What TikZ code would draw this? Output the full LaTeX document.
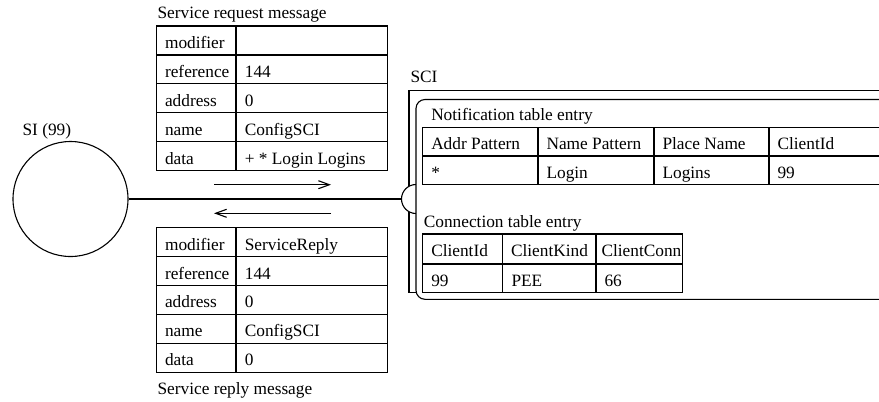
\documentclass[tikz,border=0pt]{standalone}
\usepackage{fontspec}
\setmainfont{Liberation Serif}
\usetikzlibrary{arrows.meta}
\begin{document}
\begin{tikzpicture}[x=1bp,y=-1bp,line width=1.1bp,
  txt/.style={inner sep=0pt,anchor=base west,font=\fontsize{17.3bp}{20bp}\selectfont},
  arr/.style={-{Straight Barb[length=11bp,width=8bp]},line width=1.1bp},
  boxline/.style={line width=1.2bp}]
\useasboundingbox (0,0) rectangle (879,401);
\clip (0,0) rectangle (879,401);

% ---- service request message ----
\node[txt] (reqtitle) at (157,18.3) {Service request message};
\draw[boxline] (156.7,26) rectangle (387.7,170.7);
\foreach \y in {54.94,83.88,112.82,141.76} \draw[boxline] (156.7,\y) -- (387.7,\y);
\draw[boxline] (236,26) -- (236,170.7);
\foreach \k/\v [count=\i from 0] in {modifier/{},reference/144,address/0,name/ConfigSCI,data/{+ * Login Logins}} {
  \node[txt] (rqk\i) at (164.5,26+28.94*\i+22.4) {\k};
  \node[txt] (rqv\i) at (244.3,26+28.94*\i+22.4) {\v};
}

% ---- service reply message ----
\draw[boxline] (156.7,227.7) rectangle (387.7,372.3);
\foreach \y in {256.62,285.54,314.46,343.38} \draw[boxline] (156.7,\y) -- (387.7,\y);
\draw[boxline] (236,227.7) -- (236,372.3);
\foreach \k/\v [count=\i from 0] in {modifier/ServiceReply,reference/144,address/0,name/ConfigSCI,data/0} {
  \node[txt] (rpk\i) at (164.5,227.7+28.92*\i+22.4) {\k};
  \node[txt] (rpv\i) at (244.3,227.7+28.92*\i+22.4) {\v};
}
\node[txt] (reptitle) at (157,394) {Service reply message};

% ---- SI process ----
\node[draw,circle,minimum size=115bp,inner sep=0pt] (si) at (70.5,199) {};
\node[txt] (silabel) at (22,135) {SI (99)};

% ---- SCI component ----
\node[txt] (scilabel) at (410,82.7) {SCI};
\draw (900,90.7) -- (409,90.7) -- (409,292.3) -- (430,292.3);
\draw[fill=white] (416,213.5) arc[start angle=90,end angle=270,radius=14.5];
\coordinate (port) at (401.5,199);
\draw[fill=white,rounded corners=9bp] (900,99.5) -- (416,99.5) -- (416,299.3) -- (900,299.3);

% link between SI and SCI port, with message directions
\draw (si.east) -- (port);
\coordinate (reqa) at (214,184.7);
\coordinate (reqb) at (331,184.7);
\coordinate (repa) at (331,213.3);
\coordinate (repb) at (214,213.3);
\draw[arr] (reqa) -- (reqb);
\draw[arr] (repa) -- (repb);

% ---- notification table ----
\node[txt] (nttitle) at (430.7,120.7) {Notification table entry};
\draw[boxline] (900,127.3) -- (422.7,127.3) -- (422.7,184.5) -- (900,184.5);
\draw[boxline] (422.7,156) -- (900,156);
\foreach \x in {538,654,769} \draw[boxline] (\x,127.3) -- (\x,184.5);
\foreach \h/\d/\x [count=\i] in {Addr Pattern/*/422.7,Name Pattern/Login/538,Place Name/Logins/654,ClientId/99/769} {
  \node[txt] (nth\i) at (\x+8,149.8) {\h};
  \node[txt] (ntd\i) at (\x+8,178.5) {\d};
}

% ---- connection table ----
\node[txt] (cttitle) at (423.3,227.7) {Connection table entry};
\draw[boxline] (422.7,234) rectangle (682.7,292.7);
\draw[boxline] (422.7,264) -- (682.7,264);
\foreach \x in {502.7,596} \draw[boxline] (\x,234) -- (\x,292.7);
\node[txt] (cth1) at (430.7,256.8) {ClientId};
\node[txt] (cth2) at (510.5,256.8) {ClientKind};
\node[txt] (cth3) at (601,256.8) {ClientConn};
\node[txt] (ctd1) at (430.7,286) {99};
\node[txt] (ctd2) at (511,286) {PEE};
\node[txt] (ctd3) at (604,286) {66};
\end{tikzpicture}
\end{document}
